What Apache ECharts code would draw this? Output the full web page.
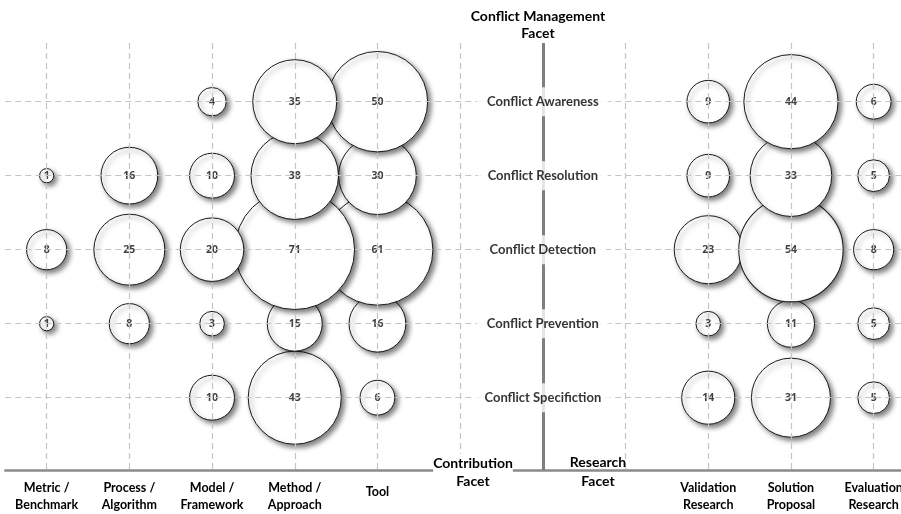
<!DOCTYPE html>
<html>
<head>
<meta charset="utf-8">
<script src="https://cdn.jsdelivr.net/npm/echarts@6/dist/echarts.min.js"></script>
<style>
  html, body { margin: 0; padding: 0; background: #fff; }
  #main { width: 901px; height: 514px; }
</style>
</head>
<body>
<div id="main"></div>
<script>
// 分类
var contribCats = ['Metric /\nBenchmark', 'Process /\nAlgorithm', 'Model /\nFramework', 'Method /\nApproach', 'Tool'];
var researchCats = ['Validation\nResearch', 'Solution\nProposal', 'Evaluation\nResearch'];
var gapCats = ['gapL', 'mid', 'gapR'];
var xCats = contribCats.concat(gapCats).concat(researchCats);
var rowNames = ['Conflict Awareness', 'Conflict Resolution', 'Conflict Detection', 'Conflict Prevention', 'Conflict Specifiction'];

// 数值 (null = 无气泡)
var contribAwareness     = [null, null, 4, 35, 50];
var contribResolution    = [1, 16, 10, 38, 30];
var contribDetection     = [8, 25, 20, 71, 61];
var contribPrevention    = [1, 8, 3, 15, 16];
var contribSpecification = [null, null, 10, 43, 6];

var researchAwareness     = [9, 44, 6];
var researchResolution    = [9, 33, 5];
var researchDetection     = [23, 54, 8];
var researchPrevention    = [3, 11, 5];
var researchSpecification = [14, 31, 5];

var contribRows = [contribAwareness, contribResolution, contribDetection, contribPrevention, contribSpecification];
var researchRows = [researchAwareness, researchResolution, researchDetection, researchPrevention, researchSpecification];

var fontFam = 'Lato, "Open Sans", sans-serif';
var numFont = '"Open Sans", Lato, sans-serif';

// 每行一个系列：左侧从右往左画（左边压右边），右侧从左往右画
function rowData(r) {
    var out = [];
    for (var i = contribCats.length - 1; i >= 0; i--) {
        var v = contribRows[r][i];
        if (v != null) out.push([contribCats[i], r, v]);
    }
    for (var j = 0; j < researchCats.length; j++) {
        var w = researchRows[r][j];
        if (w != null) out.push([researchCats[j], r, w]);
    }
    return out;
}

var series = [];

// 网格虚线 + 中间实线
var vLines = [];
xCats.forEach(function (c) {
    if (c === 'mid') return;
    vLines.push({ xAxis: c });
});
var hLines = rowNames.map(function (n, i) { return { yAxis: i }; });
series.push({
    type: 'scatter',
    data: [],
    z: 1,
    silent: true,
    markLine: {
        symbol: 'none',
        silent: true,
        label: { show: false },
        lineStyle: { color: '#c4c4c4', type: [6, 4], width: 1.2 },
        data: vLines.concat(hLines)
    }
});
series.push({
    type: 'scatter',
    data: [],
    z: 1,
    silent: true,
    markLine: {
        symbol: 'none',
        silent: true,
        label: { show: false },
        lineStyle: { color: '#7f7f7f', type: 'solid', width: 3 },
        data: [{ xAxis: 'mid' }]
    }
});

// 气泡：下面的行先画，上面的行压在上面
for (var r = rowNames.length - 1; r >= 0; r--) {
    series.push({
        name: rowNames[r],
        type: 'scatter',
        z: 3,
        data: rowData(r),
        symbolSize: function (val) { return 14.2 * Math.sqrt(val[2]); },
        itemStyle: {
            color: '#ffffff',
            borderColor: '#1a1a1a',
            borderWidth: 1,
            opacity: 1,
            shadowBlur: 5,
            shadowOffsetX: 3,
            shadowOffsetY: 3,
            shadowColor: 'rgba(0,0,0,0.5)'
        },
        label: {
            show: true,
            position: 'inside',
            formatter: function (p) { return p.value[2]; },
            color: '#404040',
            fontWeight: 'bold',
            fontSize: 10.5,
            fontFamily: numFont,
            textBorderWidth: 0,
            textShadowBlur: 0,
            textShadowColor: 'transparent'
        }
    });
}

// 中间行标签
series.push({
    type: 'scatter',
    z: 5,
    silent: true,
    symbolSize: 1,
    itemStyle: { color: 'rgba(0,0,0,0)' },
    data: rowNames.map(function (n, i) { return ['mid', i, n]; }),
    label: {
        show: true,
        position: 'inside',
        formatter: function (p) { return p.value[2]; },
        color: '#000',
        fontWeight: 'bold',
        fontSize: 13,
        fontFamily: fontFam,
        textBorderWidth: 0,
        backgroundColor: '#fff',
        padding: [8, 10]
    }
});

var chart = echarts.init(document.getElementById('main'));
chart.setOption({
    animation: false,
    backgroundColor: '#fff',
    grid: { left: 5.3, width: 909.7, top: 43, bottom: 44, outerBoundsMode: 'none', containLabel: false },
    xAxis: {
        type: 'category',
        data: xCats,
        boundaryGap: true,
        axisLine: { onZero: false, lineStyle: { color: '#8a8a8a', width: 2.5 } },
        axisTick: { show: false },
        splitLine: { show: false },
        axisLabel: {
            interval: 0,
            margin: 9,
            color: '#000',
            fontWeight: 'bold',
            fontSize: 12.5,
            fontFamily: fontFam,
            lineHeight: 17,
            formatter: function (v) {
                if (gapCats.indexOf(v) >= 0) return '';
                if (v === 'Tool') return '{t|Tool}';
                return v;
            },
            rich: {
                t: { padding: [9, 0, 0, 0], fontWeight: 'bold', fontSize: 12.5, fontFamily: fontFam, color: '#000' }
            }
        }
    },
    yAxis: {
        type: 'value',
        inverse: true,
        min: -0.793,
        max: 4.977,
        show: false,
        splitLine: { show: false }
    },
    graphic: [
        {
            type: 'text', x: 538, y: 8, z: 10,
            style: {
                text: 'Conflict Management\nFacet', align: 'center', textAlign: 'center',
                font: 'bold 14px ' + fontFam, fill: '#000', lineHeight: 17
            }
        },
        {
            type: 'text', x: 473, y: 454, z: 10,
            style: {
                text: 'Contribution\nFacet', align: 'center', textAlign: 'center',
                font: 'bold 14px ' + fontFam, fill: '#000', lineHeight: 18,
                backgroundColor: '#fff'
            }
        },
        {
            type: 'text', x: 598, y: 453, z: 10,
            style: {
                text: 'Research\nFacet', align: 'center', textAlign: 'center',
                font: 'bold 14px ' + fontFam, fill: '#000', lineHeight: 19
            }
        }
    ],
    series: series
});
</script>
</body>
</html>
